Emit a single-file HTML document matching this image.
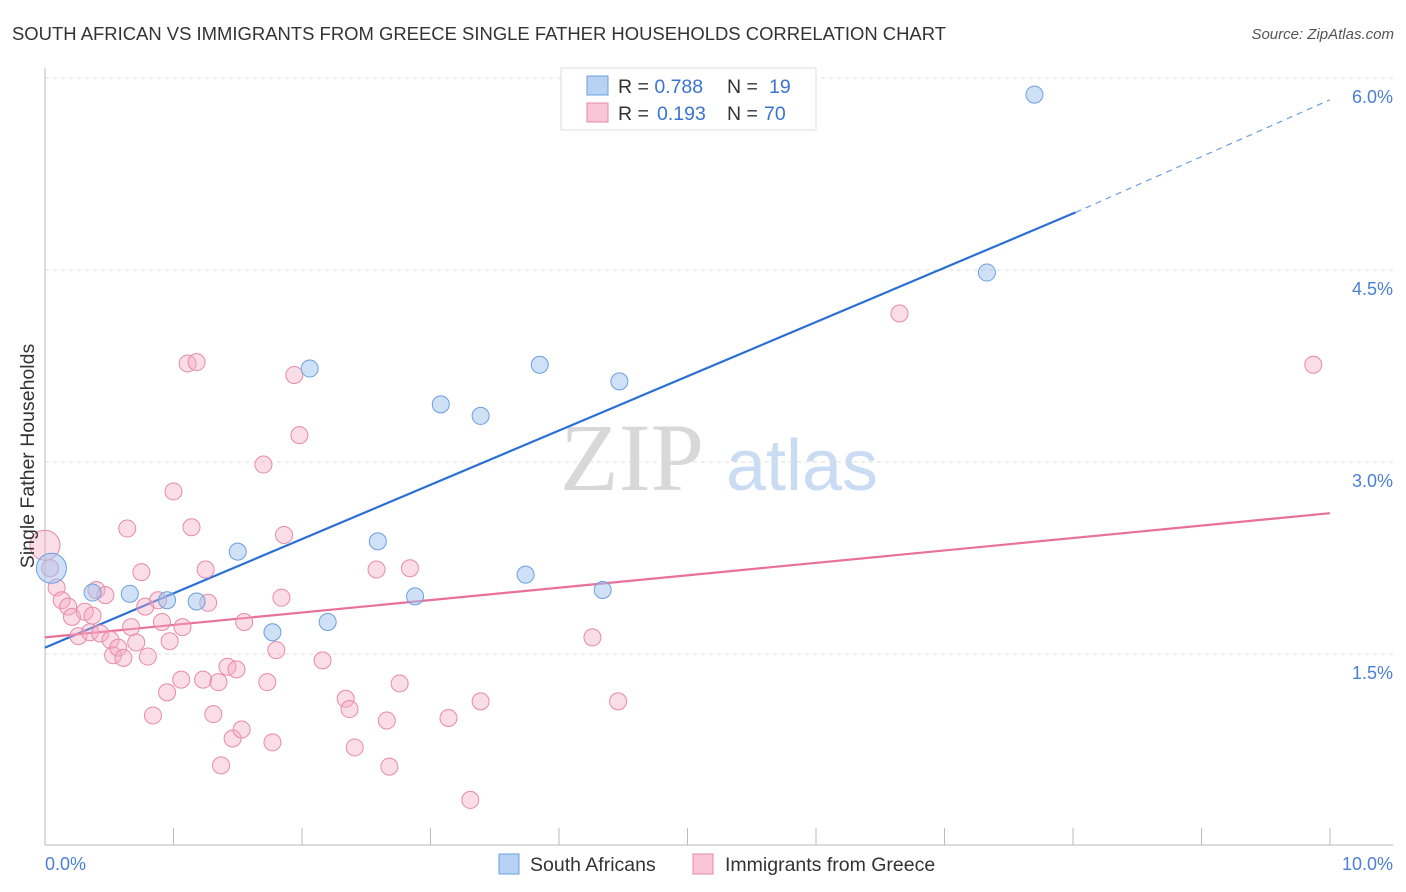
<!DOCTYPE html>
<html><head><meta charset="utf-8">
<style>
body{margin:0;background:#fff;font-family:"Liberation Sans",sans-serif;}
svg{display:block}
</style></head>
<body>
<svg id="chart" width="1406" height="892">
<text x="12" y="40" font-size="18" fill="#333" textLength="934" lengthAdjust="spacingAndGlyphs">SOUTH AFRICAN VS IMMIGRANTS FROM GREECE SINGLE FATHER HOUSEHOLDS CORRELATION CHART</text>
<text x="1394" y="39" font-size="15" fill="#555" font-style="italic" text-anchor="end">Source: ZipAtlas.com</text>
<g>
<text x="632" y="490" font-size="96" fill="#d8d8d8" font-family="Liberation Serif,serif" text-anchor="middle">ZIP</text>
<text x="802" y="490" font-size="72" fill="#c9dcf3" text-anchor="middle">atlas</text>
</g>
<g id="grid"></g>
<g id="axes"></g>
<g id="lines"></g>
<g id="points"></g>
<text transform="translate(34,456) rotate(-90)" font-size="19.5" fill="#333" text-anchor="middle">Single Father Households</text>
<text x="45" y="870" font-size="18" fill="#4a7fd4">0.0%</text>
<text x="1393" y="870" font-size="18" fill="#4a7fd4" text-anchor="end">10.0%</text>
<g>
<rect x="561" y="68" width="255" height="62" fill="#fff" stroke="#ddd"/>
<rect x="587" y="76" width="21" height="19" fill="#b8d2f4" stroke="#6b9fe0"/>
<rect x="587" y="103" width="21" height="19" fill="#f8c6d6" stroke="#e88aa8"/>
<text x="618" y="93" font-size="19.5" fill="#333">R = <tspan fill="#3a74d0">0.788</tspan><tspan x="727">N = </tspan><tspan x="769" fill="#3a74d0">19</tspan></text>
<text x="618" y="120" font-size="19.5" fill="#333">R = <tspan x="657" fill="#3a74d0">0.193</tspan><tspan x="727">N = </tspan><tspan x="764" fill="#3a74d0">70</tspan></text>
</g>
<g>
<rect x="499" y="854" width="20" height="20" fill="#b8d2f4" stroke="#6b9fe0"/>
<text x="530" y="871" font-size="19.5" fill="#333">South Africans</text>
<rect x="693" y="854" width="20" height="20" fill="#f8c6d6" stroke="#e88aa8"/>
<text x="725" y="871" font-size="19.5" fill="#333">Immigrants from Greece</text>
</g>
</svg>
<script>
const yTicks=[1.5,3.0,4.5,6.0];
const yTickLabels=["1.5%","3.0%","4.5%","6.0%"];
const xTicks=[0,1,2,3,4,5,6,7,8,9,10];
const blueX=[0.05,0.37,0.66,0.95,1.18,1.50,1.77,2.06,2.20,2.59,2.88,3.08,3.39,3.74,3.85,4.34,4.47,7.33,7.70];
const blueY=[2.17,1.98,1.97,1.92,1.91,2.30,1.67,3.73,1.75,2.38,1.95,3.45,3.36,2.12,3.76,2.00,3.63,4.48,5.87];
const pinkX=[0.00,0.04,0.09,0.13,0.18,0.21,0.26,0.31,0.35,0.37,0.40,0.47,0.43,0.51,0.53,0.57,0.61,0.64,0.67,0.71,0.75,0.78,0.80,0.84,0.88,0.91,0.95,0.97,1.00,1.06,1.07,1.11,1.14,1.18,1.25,1.27,1.23,1.31,1.35,1.37,1.42,1.46,1.49,1.53,1.55,1.70,1.73,1.77,1.80,1.84,1.86,1.94,1.98,2.16,2.34,2.37,2.41,2.58,2.66,2.68,2.76,2.84,3.14,3.31,3.39,4.26,4.46,6.65,9.87];
const pinkY=[2.35,2.17,2.02,1.92,1.87,1.79,1.64,1.83,1.67,1.80,2.00,1.96,1.66,1.61,1.49,1.55,1.47,2.48,1.71,1.59,2.14,1.87,1.48,1.02,1.92,1.75,1.20,1.60,2.77,1.30,1.71,3.77,2.49,3.78,2.16,1.90,1.30,1.03,1.28,0.63,1.40,0.84,1.38,0.91,1.75,2.98,1.28,0.81,1.53,1.94,2.43,3.68,3.21,1.45,1.15,1.07,0.77,2.16,0.98,0.62,1.27,2.17,1.00,0.36,1.13,1.63,1.13,4.16,3.76];
const blueLine=[1.55,4.95,8.02,5.83];
const pinkLine=[1.63,2.60];
const NS="http://www.w3.org/2000/svg";
const sx=v=>45+v*128.5;
const sy=v=>846-v*128;
function mk(tag,attrs,parent){const e=document.createElementNS(NS,tag);for(const k in attrs)e.setAttribute(k,attrs[k]);document.getElementById(parent).appendChild(e);return e;}
yTicks.forEach((t,i)=>{
 const l=mk('line',{x1:45,x2:1393,y1:sy(t),y2:sy(t),stroke:'#ddd','stroke-dasharray':'4,4'},'grid');
 
 
 const tx=mk('text',{x:1393,y:sy(t)+25,'font-size':18,fill:'#4a7fd4','text-anchor':'end'},'grid');
 tx.textContent=yTickLabels[i];
 
 
});
const ax=mk('line',{x1:45,x2:1393,y1:845,y2:845,stroke:'#bbb'},'axes');


const ay=mk('line',{x1:45,x2:45,y1:68,y2:845,stroke:'#bbb'},'axes');


xTicks.forEach(t=>{
 const l=mk('line',{x1:sx(t),x2:sx(t),y1:828,y2:845,stroke:'#bbb'},'axes');
 
 
});
const bl=mk('line',{x1:sx(0),y1:sy(blueLine[0]),x2:sx(blueLine[2]),y2:sy(blueLine[1]),stroke:'#2a6fd6','stroke-width':2.2},'lines');


const bd=mk('line',{x1:sx(blueLine[2]),y1:sy(blueLine[1]),x2:sx(10),y2:sy(blueLine[3]),stroke:'#6b9fe0','stroke-width':1.2,'stroke-dasharray':'6,5'},'lines');


const pl=mk('line',{x1:sx(0),y1:sy(pinkLine[0]),x2:sx(10),y2:sy(pinkLine[1]),stroke:'#e8709a','stroke-width':2.2},'lines');


pinkX.forEach((x,i)=>{
 const c=mk('circle',{cx:sx(x),cy:sy(pinkY[i]),r:i==0?15:8.5,fill:'rgba(244,170,195,0.4)',stroke:'#e88aa8','stroke-width':1},'points');
 
 
});
blueX.forEach((x,i)=>{
 const c=mk('circle',{cx:sx(x),cy:sy(blueY[i]),r:i==0?15:8.5,fill:'rgba(160,195,240,0.5)',stroke:'#6b9fe0','stroke-width':1},'points');
 
 
});
</script>
</body></html>
